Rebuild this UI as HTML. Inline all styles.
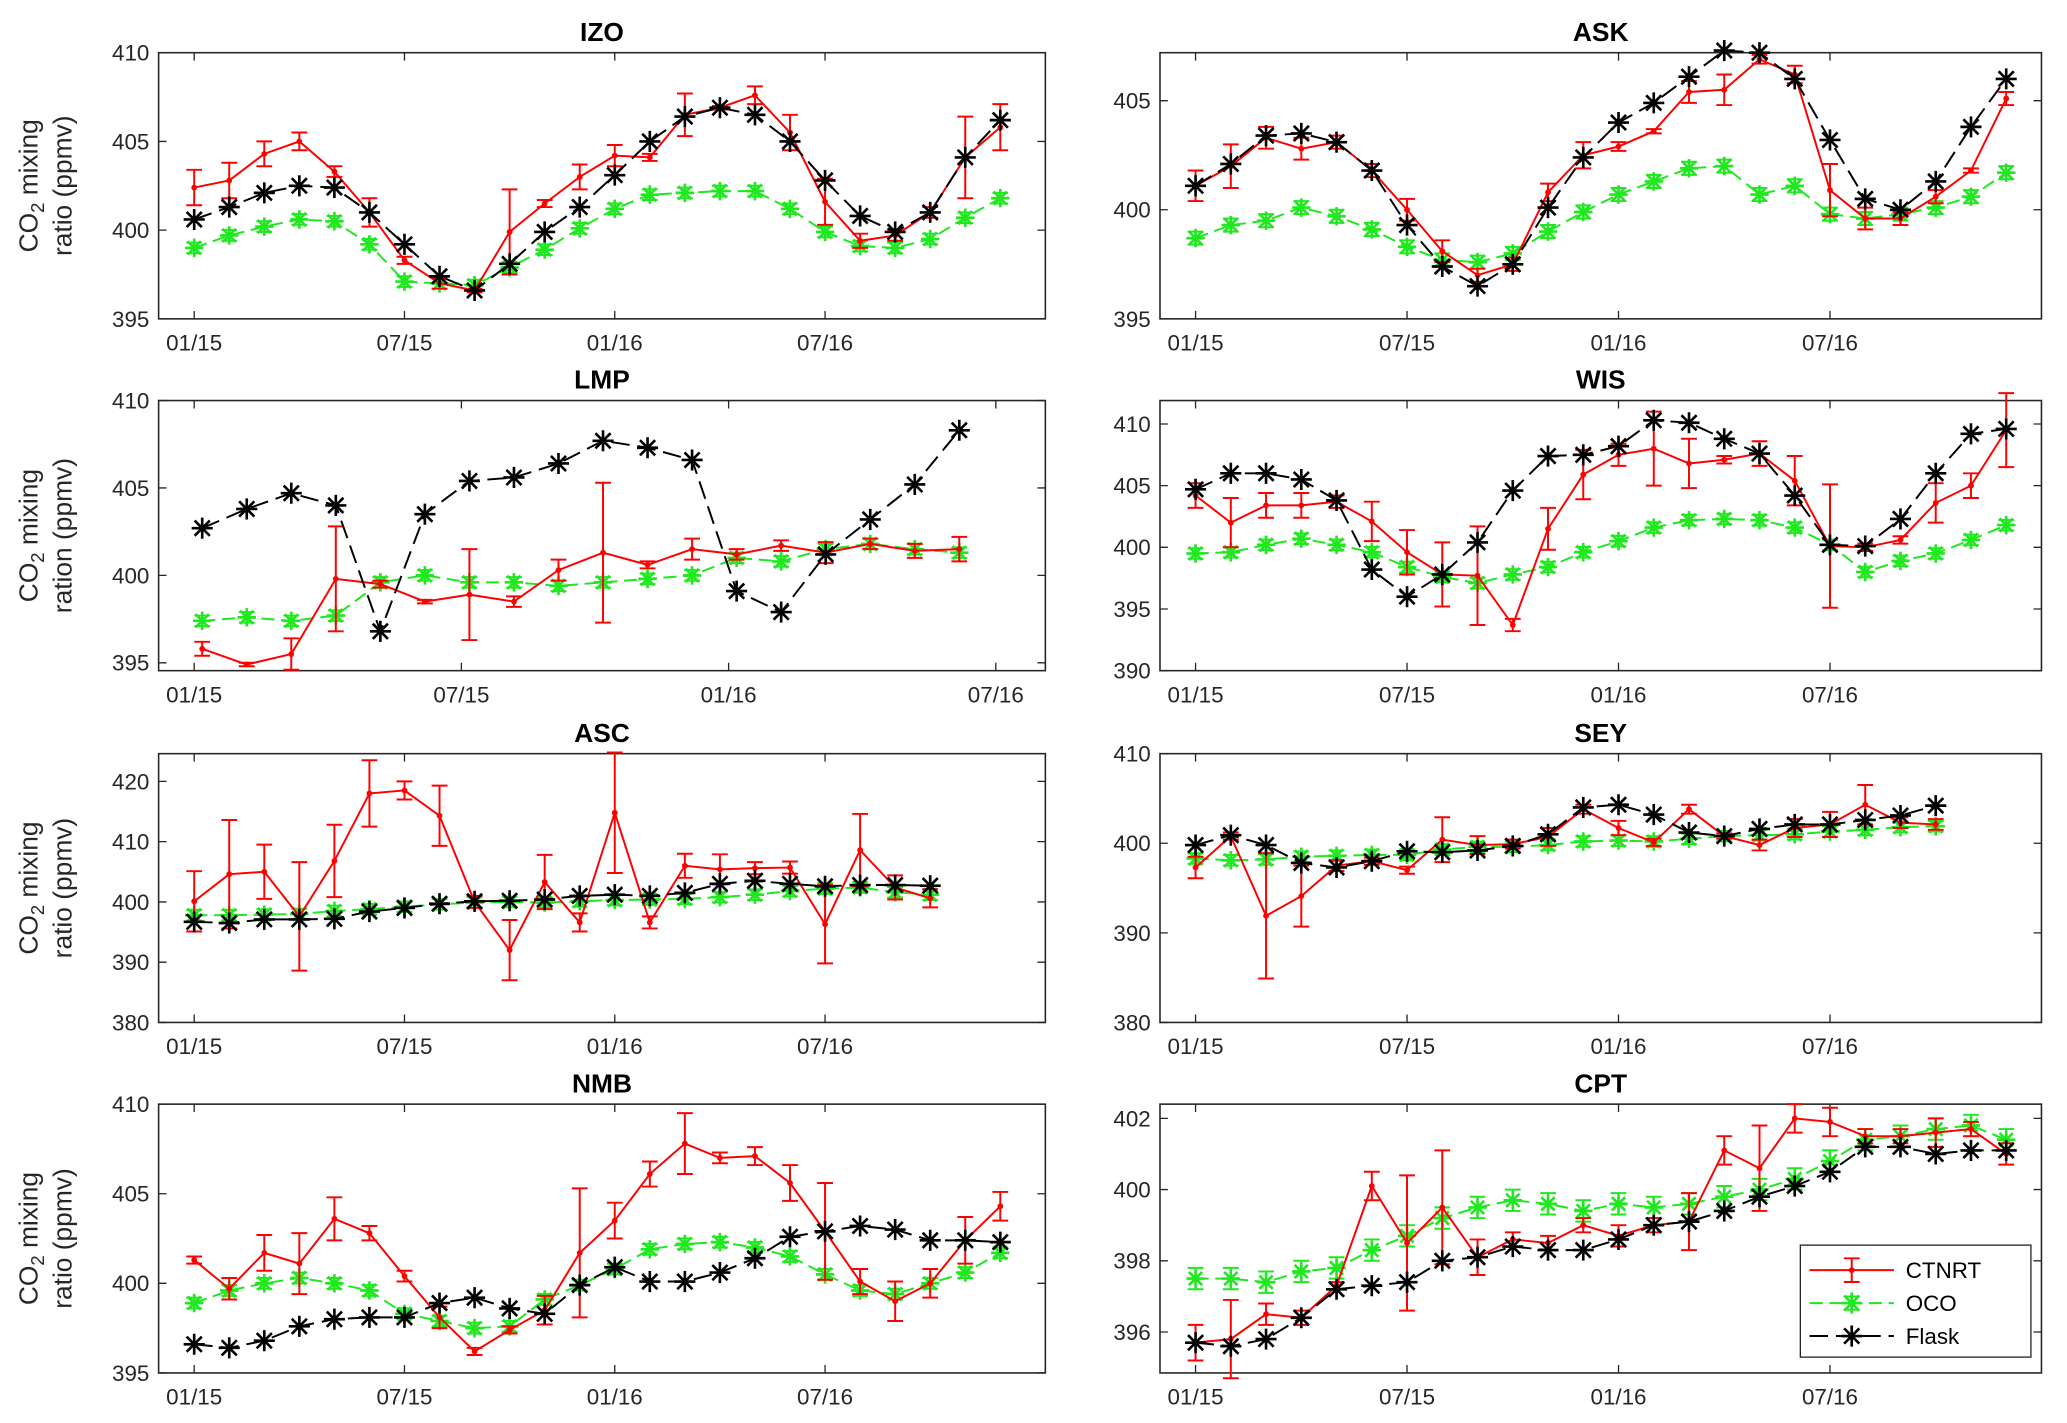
<!DOCTYPE html>
<html><head><meta charset="utf-8"><style>
html,body{margin:0;padding:0;background:#fff}
svg{display:block}
text{font-family:"Liberation Sans",sans-serif}
</style></head><body>
<svg id="fig" width="2067" height="1423" viewBox="0 0 1568 1080" xmlns="http://www.w3.org/2000/svg"></svg>
<script>
// ---- data ----
const xTickLabels = ["01/15","07/15","01/16","07/16"];
const seriesNames = ["CTNRT","OCO","Flask"];
const izoRed = [402.4,402.8,404.3,405.0,403.3,401.0,398.3,397.0,396.6,399.9,401.5,403.0,404.2,404.1,406.5,406.9,407.6,405.5,401.6,399.4,399.7,401.0,404.1,405.8];
const izoRedErr = [1.0,1.0,0.7,0.5,0.3,0.8,0.2,0.3,0.1,2.4,0.2,0.7,0.6,0.2,1.2,0.1,0.5,1.0,1.3,0.4,0.3,0.3,2.3,1.3];
const izoBlack = [400.6,401.3,402.1,402.5,402.4,401.0,399.2,397.4,396.6,398.1,399.9,401.3,403.1,405.0,406.4,406.9,406.5,405.0,402.8,400.8,399.9,401.0,404.1,406.2];
const izoGreen = [399.0,399.7,400.2,400.6,400.5,399.2,397.1,397.0,396.9,397.9,398.9,400.1,401.2,402.0,402.1,402.2,402.2,401.2,399.9,399.1,399.0,399.5,400.7,401.8];
const askRed = [401.1,402.0,403.3,402.8,403.1,401.8,400.0,398.1,397.0,397.5,400.8,402.5,402.9,403.6,405.4,405.5,406.9,406.2,400.9,399.6,399.6,400.6,401.8,405.1];
const askRedErr = [0.7,1.0,0.5,0.5,0.3,0.3,0.5,0.5,0.3,0.3,0.4,0.6,0.2,0.1,0.5,0.7,0.2,0.4,1.2,0.5,0.3,0.3,0.1,0.3];
const askBlack = [401.1,402.1,403.4,403.5,403.1,401.8,399.3,397.4,396.5,397.5,400.1,402.4,404.0,404.9,406.1,407.3,407.2,406.0,403.2,400.5,400.0,401.3,403.8,406.0];
const askGreen = [398.7,399.3,399.5,400.1,399.7,399.1,398.3,397.7,397.6,398.0,399.0,399.9,400.7,401.3,401.9,402.0,400.7,401.1,399.8,399.6,399.8,400.1,400.6,401.7];
const lmpRed = [395.8,394.9,395.5,399.8,399.5,398.5,398.9,398.5,400.3,401.3,400.6,401.5,401.2,401.7,401.3,401.8,401.4,401.5];
const lmpRedErr = [0.4,0.1,0.9,3.0,0.2,0.1,2.6,0.3,0.6,4.0,0.2,0.6,0.3,0.3,0.6,0.3,0.4,0.7];
const lmpBlack = [402.7,403.8,404.7,404.0,396.8,403.5,405.4,405.6,406.4,407.7,407.3,406.6,399.1,397.9,401.2,403.2,405.2,408.3];
const lmpGreen = [397.4,397.6,397.4,397.7,399.6,400.0,399.6,399.6,399.4,399.6,399.8,400.0,401.0,400.8,401.5,401.8,401.5,401.3];
const wisRed = [404.2,402.0,403.4,403.4,403.7,402.1,399.6,397.8,397.7,393.7,401.5,405.9,407.5,408.0,406.8,407.1,407.6,405.4,400.1,400.0,400.6,403.6,405.0,409.5];
const wisRedErr = [1.0,2.0,1.0,1.0,0.5,1.6,1.8,2.6,4.0,0.5,1.7,2.0,0.9,3.0,2.0,0.3,1.0,2.0,5.0,0.3,0.3,1.6,1.0,3.0];
const wisBlack = [404.7,406.0,406.0,405.5,403.8,398.2,396.0,397.8,400.4,404.6,407.4,407.5,408.2,410.3,410.1,408.8,407.6,404.2,400.2,400.1,402.3,406.0,409.2,409.6];
const wisGreen = [399.5,399.6,400.2,400.7,400.2,399.6,398.4,397.6,397.1,397.8,398.4,399.6,400.5,401.6,402.2,402.3,402.2,401.6,400.2,398.0,398.9,399.5,400.6,401.8];
const ascRed = [400.1,404.6,405.0,397.6,406.8,418.0,418.5,414.3,400.0,392.0,403.3,396.6,414.8,396.6,406.0,405.4,405.6,405.7,396.3,408.6,402.4,400.6];
const ascRedErr = [5,9,4.5,9,6,5.5,1.5,5,1,5,4.5,1.5,10,1,2,2.5,1,1,6.5,6,2,1.5];
const ascBlack = [396.7,396.5,397.1,397.1,397.2,398.4,399.0,399.7,400.1,400.2,400.4,401.0,401.2,401.0,401.5,403.0,403.5,403.0,402.6,402.8,402.8,402.7];
const ascGreen = [397.8,397.8,397.9,398.0,398.5,398.8,399.2,399.6,399.9,400.0,399.9,400.1,400.3,400.4,400.5,400.8,401.2,401.8,402.2,402.4,401.6,401.2];
const seyRed = [397.3,400.8,391.9,394.1,397.5,398.0,397.0,400.4,399.8,399.9,400.7,403.8,401.7,400.1,403.8,400.8,399.8,401.7,402.1,404.3,402.3,402.1];
const seyRedErr = [1.2,0.4,7,3.4,0.6,0.4,0.4,2.5,1.0,0.5,1.0,0.5,0.8,0.4,0.5,0.3,0.6,1.0,1.4,2.2,0.6,0.6];
const seyBlack = [399.8,400.9,399.8,397.8,397.3,398.0,399.1,399.0,399.2,399.7,401.0,404.0,404.3,403.2,401.2,400.8,401.6,402.1,402.1,402.6,403.1,404.2];
const seyGreen = [398.3,398.1,398.2,398.5,398.6,398.7,398.7,399.3,399.6,399.6,399.8,400.2,400.3,400.2,400.5,400.8,400.9,401.0,401.3,401.5,401.8,401.9];
const nmbRed = [401.3,399.7,401.7,401.1,403.6,402.8,400.4,398.1,396.2,397.4,398.5,401.7,403.5,406.1,407.8,407.0,407.1,405.6,402.9,400.1,399.0,400.0,402.4,404.3];
const nmbRedErr = [0.2,0.6,1,1.7,1.2,0.4,0.3,0.6,0.2,0.2,0.8,3.6,1.0,0.7,1.7,0.3,0.5,1.0,2.7,0.7,1.1,0.8,1.3,0.8];
const nmbBlack = [396.6,396.4,396.8,397.6,398.0,398.1,398.1,398.9,399.2,398.6,398.3,399.9,400.9,400.1,400.1,400.6,401.4,402.6,402.9,403.2,403.0,402.4,402.4,402.3];
const nmbGreen = [398.9,399.6,400.0,400.3,400.0,399.6,398.3,397.9,397.5,397.6,399.1,399.9,400.8,401.9,402.2,402.3,402.0,401.5,400.5,399.6,399.4,400.0,400.6,401.7];
const cptRed = [395.7,395.8,396.5,396.4,397.3,400.1,398.5,399.5,398.1,398.6,398.5,399.0,398.7,399.0,399.1,401.1,400.6,402.0,401.9,401.5,401.5,401.6,401.7,401.0];
const cptRedErr = [0.5,1.1,0.3,0.2,0.1,0.4,1.9,1.6,0.5,0.2,0.2,0.2,0.3,0.2,0.8,0.4,1.2,0.4,0.4,0.2,0.2,0.4,0.2,0.3];
const cptBlack = [395.7,395.6,395.8,396.4,397.2,397.3,397.4,398.0,398.1,398.4,398.3,398.3,398.6,399.0,399.1,399.4,399.8,400.1,400.5,401.2,401.2,401.0,401.1,401.1];
const cptGreen = [397.5,397.5,397.4,397.7,397.8,398.3,398.7,399.2,399.5,399.7,399.6,399.4,399.6,399.5,399.6,399.8,400.0,400.3,400.8,401.4,401.5,401.7,401.8,401.4];

const panels = [
 {name:"IZO",x0:120,x1:793,y0:40,y1:242,ymin:395,ymax:410,yt:[395,400,405,410],m0:147,mw:26.6,mo:0,ylab:["ratio (ppmv)"],red:izoRed,err:izoRedErr,black:izoBlack,green:izoGreen},
 {name:"ASK",x0:880,x1:1549,y0:40,y1:242,ymin:395,ymax:407.2,yt:[395,400,405],m0:907,mw:26.75,mo:0,red:askRed,err:askRedErr,black:askBlack,green:askGreen},
 {name:"LMP",x0:120,x1:793,y0:304,y1:509,ymin:394.55,ymax:410,yt:[395,400,405,410],m0:147,mw:33.8,mo:0.18,ylab:["ration (ppmv)"],red:lmpRed,err:lmpRedErr,black:lmpBlack,green:lmpGreen},
 {name:"WIS",x0:880,x1:1549,y0:304,y1:509,ymin:390,ymax:411.9,yt:[390,395,400,405,410],m0:907,mw:26.75,mo:0,red:wisRed,err:wisRedErr,black:wisBlack,green:wisGreen},
 {name:"ASC",x0:120,x1:793,y0:572,y1:776,ymin:380,ymax:424.6,yt:[380,390,400,410,420],m0:147,mw:26.6,mo:0,ylab:["ratio (ppmv)"],red:ascRed,err:ascRedErr,black:ascBlack,green:ascGreen},
 {name:"SEY",x0:880,x1:1549,y0:572,y1:776,ymin:380,ymax:410,yt:[380,390,400,410],m0:907,mw:26.75,mo:0,red:seyRed,err:seyRedErr,black:seyBlack,green:seyGreen},
 {name:"NMB",x0:120,x1:793,y0:838,y1:1042,ymin:395,ymax:410,yt:[395,400,405,410],m0:147,mw:26.6,mo:0,ylab:["ratio (ppmv)"],red:nmbRed,err:nmbRedErr,black:nmbBlack,green:nmbGreen},
 {name:"CPT",x0:880,x1:1549,y0:838,y1:1042,ymin:394.85,ymax:402.4,yt:[396,398,400,402],m0:907,mw:26.75,mo:0,red:cptRed,err:cptRedErr,black:cptBlack,green:cptGreen,legend:true}
];
const NS="http://www.w3.org/2000/svg";
const svg=document.getElementById('fig');
function el(tag,attrs,parent){const e=document.createElementNS(NS,tag);for(const k in attrs)e.setAttribute(k,attrs[k]);(parent||svg).appendChild(e);return e;}
function star(g,x,y,c,r){
  const d=`M${x-r},${y}H${x+r}M${x},${y-r}V${y+r}M${x-r*0.72},${y-r*0.72}L${x+r*0.72},${y+r*0.72}M${x-r*0.72},${y+r*0.72}L${x+r*0.72},${y-r*0.72}`;
  const p=el('path',{d:d,stroke:c,'stroke-width':2,fill:'none'},g);
  return p;
}
panels.forEach(P=>{
  const key=P.name.toLowerCase();
  const g=el('g',{});
  
  
  const xs=i=>P.m0+(i+P.mo)*P.mw;
  const ys=v=>P.y1-(v-P.ymin)/(P.ymax-P.ymin)*(P.y1-P.y0);
  // axes box
  const box=el('rect',{x:P.x0,y:P.y0,width:P.x1-P.x0,height:P.y1-P.y0,fill:'#fff',stroke:'#262626','stroke-width':1.2},g);
  
  
  // title
  const t=el('text',{x:(P.x0+P.x1)/2,y:P.y0-9,'text-anchor':'middle','font-size':20,'font-weight':'bold',fill:'#000'},g);
  t.textContent=P.name;
  
  
  // x ticks
  xTickLabels.forEach((lb,k)=>{
    const x=P.m0+k*6*P.mw;
    el('path',{d:`M${x},${P.y1}v-6M${x},${P.y0}v6`,stroke:'#262626','stroke-width':1},g);
    const tx=el('text',{x:x,y:P.y1+24,'text-anchor':'middle','font-size':17,fill:'#262626'},g);
    tx.textContent=lb;
    
    
  });
  P.yt.forEach(v=>{
    const y=ys(v);
    el('path',{d:`M${P.x0},${y}h6M${P.x1},${y}h-6`,stroke:'#262626','stroke-width':1},g);
    const ty=el('text',{x:P.x0-7,y:y+6,'text-anchor':'end','font-size':17,fill:'#262626'},g);
    ty.textContent=v;
    
    
  });
  if(P.ylab){
    const cy=(P.y0+P.y1)/2;
    const l1=el('text',{transform:`translate(28,${cy}) rotate(-90)`,'text-anchor':'middle','font-size':20,fill:'#262626'},g);
    l1.innerHTML='CO<tspan font-size="14" dy="5">2</tspan><tspan dy="-5"> mixing</tspan>';
    
    
    const l2=el('text',{transform:`translate(54,${cy}) rotate(-90)`,'text-anchor':'middle','font-size':20,fill:'#262626'},g);
    l2.textContent=P.ylab[0];
    
    
  }
  // green (OCO)
  const gg=el('g',{},g);
  
  
  el('polyline',{points:P.green.map((v,i)=>xs(i)+','+ys(v)).join(' '),fill:'none',stroke:'#1fe81f','stroke-width':1.5,'stroke-dasharray':'10,5'},gg);
  P.green.forEach((v,i)=>{
    const x=xs(i),y=ys(v),e=Math.max(0.3*(P.y1-P.y0)/(P.ymax-P.ymin)/ (P.ymax-P.ymin>20?2:1),4);
    el('path',{d:`M${x},${y-e}V${y+e}M${x-6},${y-e}h12M${x-6},${y+e}h12`,stroke:'#1fe81f','stroke-width':1.5},gg);
    const s=star(gg,x,y,'#1fe81f',7);
    
    
  });
  // red (CTNRT)
  const rg=el('g',{},g);
  
  
  el('polyline',{points:P.red.map((v,i)=>xs(i)+','+ys(v)).join(' '),fill:'none',stroke:'#ff0000','stroke-width':1.5},rg);
  P.red.forEach((v,i)=>{
    const x=xs(i),y=ys(v),a=ys(v+P.err[i]),b=ys(v-P.err[i]);
    el('path',{d:`M${x},${a}V${b}M${x-6},${a}h12M${x-6},${b}h12`,stroke:'#ff0000','stroke-width':1.5},rg);
    const c=el('circle',{cx:x,cy:y,r:2.2,fill:'#ff0000'},rg);
    
    
  });
  // black (Flask)
  const bg=el('g',{},g);
  
  
  el('polyline',{points:P.black.map((v,i)=>xs(i)+','+ys(v)).join(' '),fill:'none',stroke:'#000','stroke-width':1.5,'stroke-dasharray':'14,6'},bg);
  P.black.forEach((v,i)=>{
    const s=star(bg,xs(i),ys(v),'#000',8);
    
    
  });
  if(P.legend){
    const lg=el('g',{},g);
    
    
    el('rect',{x:1366,y:945,width:175,height:85,fill:'#fff',stroke:'#262626','stroke-width':1},lg);
    const cols=['#ff0000','#1fe81f','#000'];
    const dash=['none','10,5','14,6'];
    seriesNames.forEach((n,k)=>{
      const y=964+k*25;
      const e=el('g',{},lg);
      
      
      el('line',{x1:1373,x2:1437,y1:y,y2:y,stroke:cols[k],'stroke-width':1.5,'stroke-dasharray':dash[k]},e);
      if(k==0){el('path',{d:`M1405,${y-9}V${y+9}M1399,${y-9}h12M1399,${y+9}h12`,stroke:cols[0],'stroke-width':1.5},e);el('circle',{cx:1405,cy:y,r:2.2,fill:cols[0]},e);}
      else{ if(k==1)el('path',{d:`M1405,${y-5}V${y+5}M1399,${y-5}h12M1399,${y+5}h12`,stroke:cols[1],'stroke-width':1.5},e); star(e,1405,y,cols[k],8);}
      const tt=el('text',{x:1446,y:y+6,'font-size':17,fill:'#000'},e);
      tt.textContent=n;
    });
  }
});
</script>
</body></html>
